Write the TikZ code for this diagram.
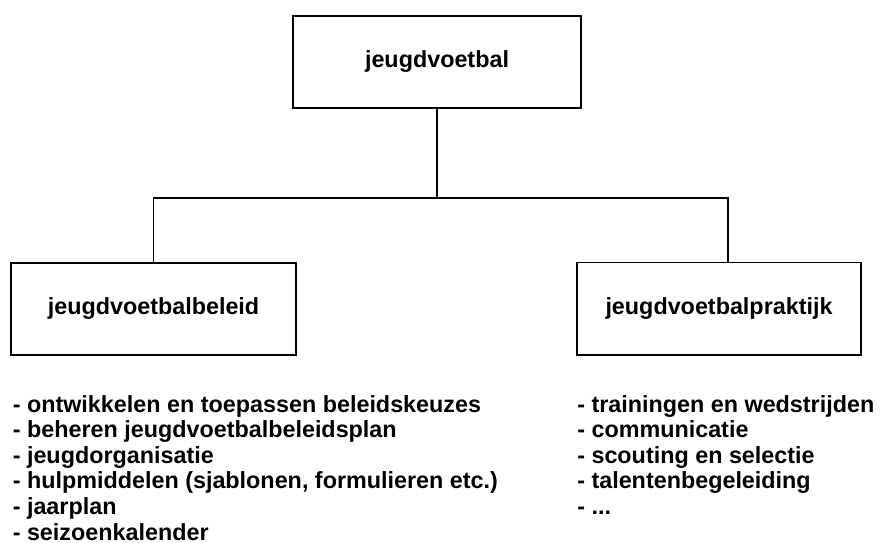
\documentclass[tikz,border=0pt]{standalone}
\usepackage{fontspec}
\setmainfont{Liberation Sans}
\usetikzlibrary{calc}

\tikzset{
  box/.style={draw, line width=1.4pt, inner sep=0pt,
    minimum width=7.1cm, minimum height=2.3cm,
    font=\bfseries\fontsize{16.6}{18}\selectfont},
  item/.style={anchor=base west, inner sep=0pt,
    font=\bfseries\fontsize{16.6}{18}\selectfont},
  conn/.style={line width=1.4pt},
}

\begin{document}
\begin{tikzpicture}[x=0.025cm, y=-0.025cm]
			%%%%% START %%%%%
			\useasboundingbox (0, 0) rectangle (880, 542);
			
			\node[box, minimum width=7.2cm] (top) at (437, 62) {jeugdvoetbal};
			\node[box] (beleid) at (153.5, 309) {jeugdvoetbalbeleid};
			\node[box] (praktijk) at (719, 308.5) {jeugdvoetbalpraktijk};
			
			\coordinate (split) at (437, 198);
			\coordinate (rjoin) at ($(praktijk.north)+(9, 0)$);
			\draw[conn] (top.south) -- (split);
			\draw[conn] (beleid.north) |- (split) -| (rjoin);
			
			\foreach \txt [count=\i] in {- ontwikkelen en toepassen beleidskeuzes,
				- beheren jeugdvoetbalbeleidsplan, - jeugdorganisatie,
				{- hulpmiddelen (sjablonen, formulieren etc.)}, - jaarplan,
				- seizoenkalender}
				\node[item] (b\i) at (12.5, 412 + 25.6*\i - 25.6) {\txt};
			
			\foreach \txt [count=\i] in {- trainingen en wedstrijden, - communicatie,
				- scouting en selectie, - talentenbegeleiding, {- .{}.{}.}}
				\node[item] (p\i) at (577, 412 + 25.6*\i - 25.6) {\txt};
			
			%%%%% END %%%%%
\end{tikzpicture}
\end{document}
